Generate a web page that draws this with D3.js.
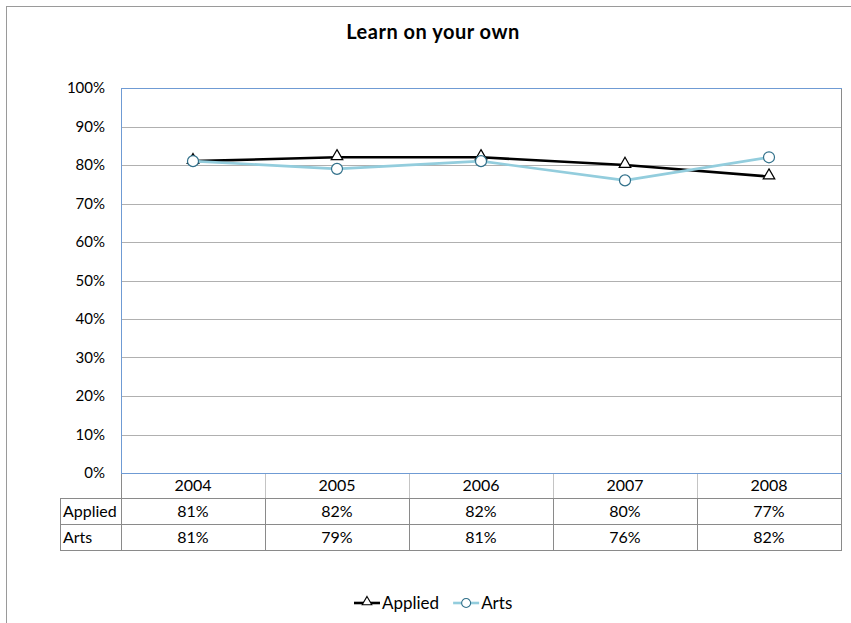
<!DOCTYPE html>
<html>
<head>
<meta charset="utf-8">
<script src="https://cdn.jsdelivr.net/npm/d3@7"></script>
<style>
  html, body { margin: 0; padding: 0; background: #fff; }
  svg { display: block; font-family: Lato, "Open Sans", sans-serif; }
</style>
</head>
<body>
<svg id="chart" width="851" height="623"></svg>
<script>
// Chart data
const years = ["2004", "2005", "2006", "2007", "2008"];
const applied = [0.81, 0.82, 0.82, 0.80, 0.77];
const arts = [0.81, 0.79, 0.81, 0.76, 0.82];
const yTicks = [0, 0.1, 0.2, 0.3, 0.4, 0.5, 0.6, 0.7, 0.8, 0.9, 1.0];
const seriesNames = ["Applied", "Arts"];

const series = [
  { name: seriesNames[0], values: applied, color: "#000000", marker: "triangle", markerStroke: "#000000" },
  { name: seriesNames[1], values: arts, color: "#93cddd", marker: "circle", markerStroke: "#31708a" }
];

const svg = d3.select("#chart");
const pct = d3.format(".0%");

// Outer chart frame
svg.append("rect")
  .attr("x", 6.5).attr("y", 6.5)
  .attr("width", 860).attr("height", 640)
  .attr("fill", "#fff").attr("stroke", "#9a9a9a").attr("stroke-width", 1);

// Plot area geometry
const pLeft = 121, pRight = 841, pTop = 88, pBottom = 473;
const rowLines = [473, 498, 524, 550];

const x = d3.scaleBand().domain(years).range([pLeft, pRight]);
const y = d3.scaleLinear().domain([0, 1]).range([pBottom, pTop]);

// Title
svg.append("text")
  .attr("x", 433).attr("y", 39)
  .attr("text-anchor", "middle")
  .attr("font-size", 20).attr("font-weight", "bold")
  .attr("letter-spacing", 0.5)
  .attr("fill", "#000")
  .text("Learn on your own");

// Horizontal gridlines
svg.append("g")
  .selectAll("line")
  .data(yTicks.filter(t => t > 0 && t < 1))
  .join("line")
  .attr("x1", pLeft).attr("x2", pRight)
  .attr("y1", d => Math.round(y(d)) + 0.5).attr("y2", d => Math.round(y(d)) + 0.5)
  .attr("stroke", "#b0b0b0").attr("stroke-width", 1);

// Plot area border: top/left blue, right gray
svg.append("line")
  .attr("x1", pRight + 0.5).attr("x2", pRight + 0.5)
  .attr("y1", pTop).attr("y2", pBottom)
  .attr("stroke", "#8a8a8a");
svg.append("line")
  .attr("x1", pLeft).attr("x2", pRight + 1)
  .attr("y1", pTop + 0.5).attr("y2", pTop + 0.5)
  .attr("stroke", "#6f9bd4");
svg.append("line")
  .attr("x1", pLeft + 0.5).attr("x2", pLeft + 0.5)
  .attr("y1", pTop).attr("y2", pBottom)
  .attr("stroke", "#6f9bd4");

// Y axis labels
const yAxis = d3.axisLeft(y).tickValues(yTicks).tickFormat(pct).tickSize(0).tickPadding(16);
const yg = svg.append("g").attr("transform", `translate(${pLeft},0)`).call(yAxis);
yg.select(".domain").remove();
yg.selectAll("text").attr("font-size", 15).attr("font-family", "Lato, 'Open Sans', sans-serif").attr("fill", "#000");

// Data table below the plot
const table = svg.append("g");
const tBottom = rowLines[3];
// Header row vertical separators (lighter)
table.selectAll("line.hdr")
  .data(years.slice(1))
  .join("line")
  .attr("class", "hdr")
  .attr("x1", d => Math.round(x(d)) + 0.5).attr("x2", d => Math.round(x(d)) + 0.5)
  .attr("y1", rowLines[0]).attr("y2", rowLines[1])
  .attr("stroke", "#c4c4c4");
// Body row vertical separators
table.selectAll("line.body")
  .data(years.slice(1))
  .join("line")
  .attr("class", "body")
  .attr("x1", d => Math.round(x(d)) + 0.5).attr("x2", d => Math.round(x(d)) + 0.5)
  .attr("y1", rowLines[1]).attr("y2", tBottom)
  .attr("stroke", "#8a8a8a");
// Horizontal rules of the table
rowLines.slice(1).forEach(yy => {
  table.append("line")
    .attr("x1", 60).attr("x2", pRight + 1)
    .attr("y1", yy + 0.5).attr("y2", yy + 0.5)
    .attr("stroke", "#8a8a8a");
});
// Table outer verticals
table.append("line").attr("x1", 60.5).attr("x2", 60.5).attr("y1", rowLines[1]).attr("y2", tBottom + 1).attr("stroke", "#8a8a8a");
table.append("line").attr("x1", pLeft + 0.5).attr("x2", pLeft + 0.5).attr("y1", pBottom).attr("y2", tBottom + 1).attr("stroke", "#8a8a8a");
table.append("line").attr("x1", pRight + 0.5).attr("x2", pRight + 0.5).attr("y1", pBottom).attr("y2", tBottom + 1).attr("stroke", "#8a8a8a");
// Bottom axis line (blue)
svg.append("line")
  .attr("x1", pLeft).attr("x2", pRight + 1)
  .attr("y1", pBottom + 0.5).attr("y2", pBottom + 0.5)
  .attr("stroke", "#6f9bd4");

const rowMid = i => (rowLines[i] + rowLines[i + 1]) / 2 + 5.5;

// Year header labels
table.selectAll("text.year")
  .data(years)
  .join("text")
  .attr("class", "year")
  .attr("x", d => x(d) + x.bandwidth() / 2)
  .attr("y", rowMid(0))
  .attr("text-anchor", "middle")
  .attr("font-size", 16)
  .text(d => d);

// Series rows in the table
series.forEach((s, i) => {
  table.append("text")
    .attr("x", 63).attr("y", rowMid(i + 1))
    .attr("font-size", 16)
    .text(s.name);
  table.selectAll(`text.v${i}`)
    .data(s.values)
    .join("text")
    .attr("class", `v${i}`)
    .attr("x", (d, j) => x(years[j]) + x.bandwidth() / 2)
    .attr("y", rowMid(i + 1))
    .attr("text-anchor", "middle")
    .attr("font-size", 16)
    .text(d => pct(d));
});

// Lines and markers
const triangle = d3.symbol().type(d3.symbolTriangle).size(58);

function drawMarker(g, type, stroke) {
  if (type === "circle") {
    g.append("circle").attr("r", 5.5).attr("fill", "#fff").attr("stroke", stroke).attr("stroke-width", 1.2);
  } else {
    g.append("path").attr("d", triangle).attr("fill", "#fff").attr("stroke", stroke).attr("stroke-width", 1.2)
      .attr("transform", "translate(0,-1)");
  }
}

const lineGen = d3.line()
  .x((d, j) => x(years[j]) + x.bandwidth() / 2)
  .y(d => y(d));

series.forEach(s => {
  svg.append("path")
    .datum(s.values)
    .attr("d", lineGen)
    .attr("fill", "none")
    .attr("stroke", s.color)
    .attr("stroke-width", 2.6)
    .attr("stroke-linejoin", "round");
});
series.forEach(s => {
  s.values.forEach((v, j) => {
    const g = svg.append("g").attr("transform", `translate(${x(years[j]) + x.bandwidth() / 2},${y(v)})`);
    drawMarker(g, s.marker, s.markerStroke);
  });
});

// Legend
const legend = svg.append("g").attr("transform", "translate(354,603)");
let lx = 0;
series.forEach(s => {
  const g = legend.append("g").attr("transform", `translate(${lx},0)`);
  g.append("line").attr("x1", 0).attr("x2", 26).attr("y1", 0).attr("y2", 0)
    .attr("stroke", s.color).attr("stroke-width", 2.6);
  const m = g.append("g").attr("transform", "translate(13,0)");
  if (s.marker === "circle") {
    m.append("circle").attr("r", 4.5).attr("fill", "#fff").attr("stroke", s.markerStroke).attr("stroke-width", 1.1);
  } else {
    m.append("path").attr("d", d3.symbol().type(d3.symbolTriangle).size(40)).attr("fill", "#fff")
      .attr("stroke", s.markerStroke).attr("stroke-width", 1.1).attr("transform", "translate(0,-1)");
  }
  const t = g.append("text").attr("x", 28).attr("y", 5.5).attr("font-size", 17).text(s.name);
  lx += 28 + t.node().getComputedTextLength() + 14;
});
</script>
</body>
</html>
